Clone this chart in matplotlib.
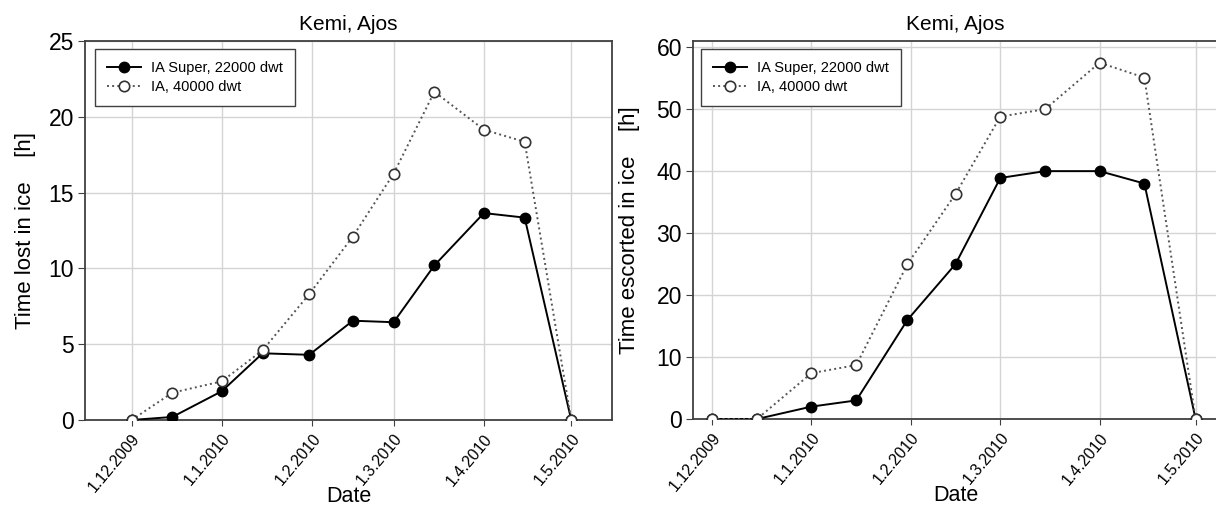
import datetime as dt
import matplotlib
matplotlib.use("Agg")
import matplotlib.pyplot as plt
import matplotlib.dates as mdates

plt.rcParams['font.family'] = ['Liberation Sans', 'DejaVu Sans']

# measurement dates (half-month steps)
dates = [dt.date(2009, 12, 1), dt.date(2009, 12, 15), dt.date(2010, 1, 1),
         dt.date(2010, 1, 15), dt.date(2010, 1, 31), dt.date(2010, 2, 15),
         dt.date(2010, 3, 1), dt.date(2010, 3, 15), dt.date(2010, 4, 1),
         dt.date(2010, 4, 15), dt.date(2010, 5, 1)]

# time lost in ice [h]
lost_super = [0, 0.2, 1.9, 4.4, 4.3, 6.55, 6.45, 10.2, 13.65, 13.35, 0]
lost_ia = [0, 1.8, 2.55, 4.6, 8.3, 12.1, 16.25, 21.65, 19.15, 18.35, 0]

# time escorted in ice [h]
escort_super = [0, 0, 2.0, 3.0, 16.0, 25.0, 38.9, 40.0, 40.0, 38.0, 0]
escort_ia = [0, 0, 7.4, 8.7, 25.0, 36.3, 48.8, 50.0, 57.5, 55.1, 0]

tick_dates = [dt.date(2009, 12, 1), dt.date(2010, 1, 1), dt.date(2010, 2, 1),
              dt.date(2010, 3, 1), dt.date(2010, 4, 1), dt.date(2010, 5, 1)]
tick_labels = ["1.12.2009", "1.1.2010", "1.2.2010", "1.3.2010", "1.4.2010", "1.5.2010"]

label_super = "IA Super, 22000 dwt"
label_ia = "IA, 40000 dwt"

W, H = 1216, 511
fig = plt.figure(figsize=(W / 100, H / 100), dpi=100)


def px_axes(l, r, t, b):
    return fig.add_axes([l / W, (H - b) / H, (r - l) / W, (b - t) / H])


def style_panel(ax, ysup, yia, ylabel, xlim, ylim, yticks, ylab_x, leg_xy):
    ax.plot(dates, ysup, '-', color='black', lw=1.4, marker='o', ms=7.5,
            mfc='black', mec='black', label=label_super, zorder=3)
    ax.plot(dates, yia, ':', color='#555555', lw=1.4, marker='o', ms=7.5,
            mfc='white', mec='#333333', mew=1.2, label=label_ia, zorder=4)
    ax.set_xlim(mdates.date2num(xlim[0]), mdates.date2num(xlim[1]))
    ax.set_ylim(*ylim)
    ax.set_xticks(mdates.date2num(tick_dates))
    ax.set_xticklabels(tick_labels, rotation=50, ha='right', rotation_mode='anchor',
                       fontsize=11.5)
    ax.set_yticks(yticks)
    ax.grid(True, color='#d4d4d4', lw=1.0, zorder=0)
    ax.set_axisbelow(True)
    for s in ax.spines.values():
        s.set_color('#404040')
        s.set_linewidth(1.3)
    ax.tick_params(axis='y', direction='out', length=5, color='#404040', labelsize=16.5, pad=3)
    ax.tick_params(axis='x', direction='out', length=4, color='#404040', pad=4)
    ax.set_title("Kemi, Ajos", fontsize=15, pad=8)
    ax.set_xlabel("Date", fontsize=15.5)
    ax.set_ylabel(ylabel, fontsize=16)
    ax.yaxis.set_label_coords(ylab_x, 0.5)
    ax.xaxis.set_label_coords(0.5, -0.175)
    ax.legend(loc='upper left', bbox_to_anchor=leg_xy, borderaxespad=0,
              fancybox=False, edgecolor='#404040', framealpha=1, fontsize=10.5,
              handlelength=2.3, handletextpad=0.7, borderpad=0.85, labelspacing=0.3)


ax1 = px_axes(85, 612, 41, 420)
style_panel(ax1, lost_super, lost_ia, "Time lost in ice    [h]",
            (dt.date(2009, 11, 15), dt.date(2010, 5, 15)), (0, 25),
            [0, 5, 10, 15, 20, 25], -0.093, (0.019, 0.979))

ax2 = px_axes(693, 1218, 41, 419)
style_panel(ax2, escort_super, escort_ia, "Time escorted in ice    [h]",
            (dt.date(2009, 11, 25), dt.date(2010, 5, 8)), (0, 61),
            [0, 10, 20, 30, 40, 50, 60], -0.101, (0.015, 0.979))

fig.savefig("out.png", dpi=100)
